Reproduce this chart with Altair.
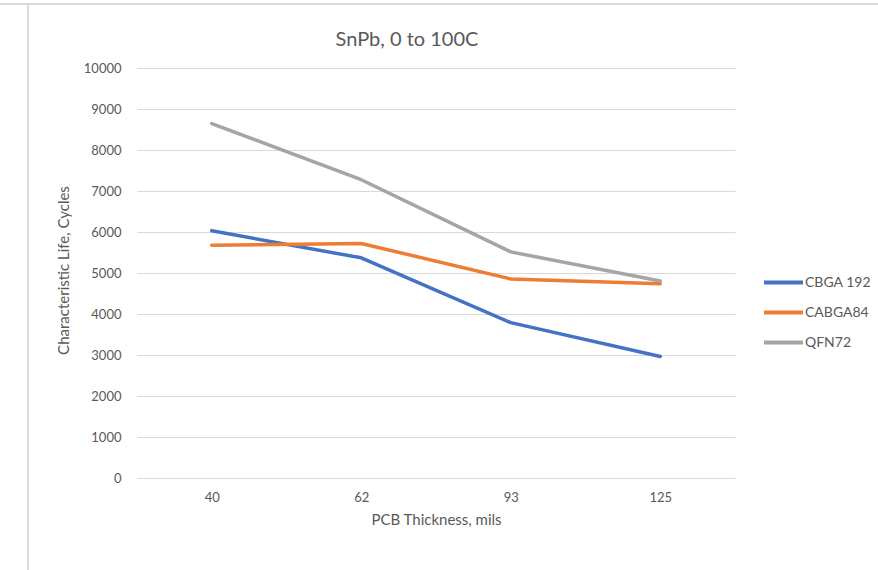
import altair as alt
import pandas as pd

thickness = ["40", "62", "93", "125"]
series_names = ["CBGA 192", "CABGA84", "QFN72"]
cbga192 = [6030, 5370, 3790, 2965]
cabga84 = [5675, 5720, 4855, 4740]
qfn72 = [8645, 7275, 5515, 4805]
colors = ["#4472C4", "#ED7D31", "#A5A5A5"]
y_ticks = [0, 1000, 2000, 3000, 4000, 5000, 6000, 7000, 8000, 9000, 10000]

rows = []
for name, vals in zip(series_names, [cbga192, cabga84, qfn72]):
    for t, v in zip(thickness, vals):
        rows.append({"Thickness": t, "Life": v, "Series": name})
df = pd.DataFrame(rows)

FONT = "Lato"
GRAY = "#595959"
GRID = "#D9D9D9"

lines = alt.Chart(df).mark_line(strokeWidth=3.5, strokeCap="round", strokeJoin="round").encode(
    x=alt.X("Thickness:O", sort=thickness,
            scale=alt.Scale(padding=0.5),
            axis=alt.Axis(title="PCB Thickness, mils", labelAngle=0, ticks=False, grid=False,
                          domain=False,
                          labelFont=FONT, labelFontSize=13, labelColor=GRAY,
                          labelPadding=13,
                          titleFont=FONT, titleFontSize=15, titleFontWeight="normal",
                          titleColor=GRAY, titlePadding=8)),
    y=alt.Y("Life:Q", scale=alt.Scale(domain=[0, 10000], nice=False),
            axis=alt.Axis(title="Characteristic Life, Cycles", values=y_ticks, format="d",
                          ticks=False, domain=False, gridColor=GRID, gridWidth=1,
                          labelFont=FONT, labelFontSize=13, labelColor=GRAY,
                          labelPadding=16,
                          titleFont=FONT, titleFontSize=15, titleFontWeight="normal",
                          titleColor=GRAY, titleAngle=-90,
                          titleX=-74, titleY=202, titleAlign="center",
                          titleBaseline="middle")),
    color=alt.Color("Series:N", sort=series_names,
                    scale=alt.Scale(domain=series_names, range=colors),
                    legend=alt.Legend(title=None, orient="none", legendX=625, legendY=193,
                                      symbolType="stroke", symbolSize=1521,
                                      symbolStrokeWidth=4, rowPadding=-12,
                                      labelOffset=0,
                                      labelFont=FONT, labelFontSize=14, labelColor=GRAY)),
)

frame_top = alt.Chart(df).mark_rule(color=GRID, strokeWidth=2).encode(
    x=alt.value(-140), x2=alt.value(800), y=alt.value(-64), y2=alt.value(-64)
)
frame_left = alt.Chart(df).mark_rule(color=GRID, strokeWidth=2).encode(
    x=alt.value(-109), x2=alt.value(-109), y=alt.value(-64), y2=alt.value(510)
)

chart = alt.layer(frame_top, frame_left, lines).properties(
    width=598, height=410,
    autosize=alt.AutoSizeParams(type="none"),
    padding={"left": 137, "top": 68, "right": 143, "bottom": 92},
    title=alt.TitleParams("SnPb, 0 to 100C", font=FONT, fontSize=20, fontWeight="normal",
                          color=GRAY, anchor="middle", offset=18, dx=-29, dy=65),
    view=alt.ViewBackground(stroke="transparent", strokeWidth=0, strokeOpacity=0),
).configure(
    background="white",
    view=alt.ViewConfig(stroke="transparent", strokeWidth=0),
    axisX=alt.AxisConfig(grid=False),
)

chart.save("out.html", embed_options={"renderer": "svg", "actions": False})
